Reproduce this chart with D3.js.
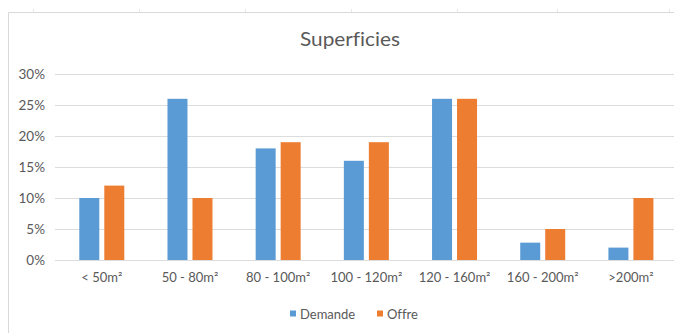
<!DOCTYPE html>
<html>
<head>
<meta charset="utf-8">
<script src="https://cdn.jsdelivr.net/npm/d3@7"></script>
<style>
  html, body { margin: 0; padding: 0; background: #fff; }
  svg { display: block; }
  text { font-family: Lato, "Noto Sans", sans-serif; fill: #595959; font-variant-ligatures: none; }
</style>
</head>
<body>
<svg id="chart" width="674" height="333"></svg>
<script>
// Surface ranges and the share of requests (Demande) vs listings (Offre), in %
const categories = ["< 50m²", "50 - 80m²", "80 - 100m²", "100 - 120m²", "120 - 160m²", "160 - 200m²", ">200m²"];
const demande = [10, 26, 18, 16, 26, 2.8, 2];
const offre = [12, 10, 19, 19, 26, 5, 10];
const seriesNames = ["Demande", "Offre"];
const seriesColors = ["#5b9bd5", "#ed7d31"];
const yTicks = [0, 5, 10, 15, 20, 25, 30];
const title = "Superficies";

const svg = d3.select("#chart");
const W = 674, H = 333;

// spreadsheet cell gridlines peeking above the chart frame
const cellX = [33, 139, 245, 351, 457, 557, 669];
svg.selectAll("line.cell").data(cellX).join("line")
  .attr("x1", d => d + 0.5).attr("x2", d => d + 0.5)
  .attr("y1", 9).attr("y2", 13)
  .attr("stroke", "#e6e6e6").attr("stroke-width", 1);

// chart frame
svg.append("path")
  .attr("d", `M${W + 2},12.5 H8.5 V${H + 2}`)
  .attr("fill", "none").attr("stroke", "#d9d9d9").attr("stroke-width", 1);

// title
svg.append("text")
  .attr("x", 350).attr("y", 46)
  .attr("text-anchor", "middle")
  .attr("font-size", 20)
  .attr("textLength", 100).attr("lengthAdjust", "spacingAndGlyphs")
  .text(title);

// scales
const x0 = d3.scaleBand().domain(categories).range([57.7, 675]).padding(0);
const groupW = 45;
const x1 = d3.scaleBand().domain(seriesNames)
  .range([x0.bandwidth() / 2 - groupW / 2, x0.bandwidth() / 2 + groupW / 2])
  .paddingInner(0.2);
const y = d3.scaleLinear().domain([0, 30]).range([260, 74]);
const color = d3.scaleOrdinal().domain(seriesNames).range(seriesColors);

// horizontal gridlines + y axis labels
const yAxis = d3.axisLeft(y).tickValues(yTicks)
  .tickSize(-(W - 55)).tickFormat(d => d + "%").tickPadding(10);
const gy = svg.append("g").attr("transform", "translate(55,0)").call(yAxis);
gy.select(".domain").remove();
gy.selectAll(".tick line").attr("stroke", "#dcdcdc").attr("stroke-width", 1);
gy.selectAll(".tick text")
  .attr("font-size", 13.5).attr("fill", "#595959")
  .attr("font-family", "Lato, sans-serif");

// bars
const rows = categories.map((c, i) => ({ cat: c, values: [demande[i], offre[i]] }));
const groups = svg.append("g").selectAll("g").data(rows).join("g")
  .attr("transform", d => `translate(${x0(d.cat)},0)`);
groups.selectAll("rect")
  .data(d => d.values.map((v, k) => ({ key: seriesNames[k], value: v })))
  .join("rect")
  .attr("x", d => x1(d.key))
  .attr("width", x1.bandwidth())
  .attr("y", d => y(d.value))
  .attr("height", d => y(0) - y(d.value))
  .attr("fill", d => color(d.key));

// x axis labels
const xAxis = d3.axisBottom(x0).tickSize(0).tickPadding(13);
const gx = svg.append("g").attr("transform", `translate(0,${y(0)})`).call(xAxis);
gx.select(".domain").remove();
gx.selectAll(".tick text")
  .attr("font-size", 13).attr("fill", "#595959")
  .attr("font-family", "Lato, sans-serif");

// legend
const legend = svg.append("g").attr("transform", "translate(290,314)");
const legendItems = [
  { name: seriesNames[0], dx: 0 },
  { name: seriesNames[1], dx: 87 }
];
const li = legend.selectAll("g").data(legendItems).join("g")
  .attr("transform", d => `translate(${d.dx},0)`);
li.append("rect")
  .attr("x", 0).attr("y", -3.5).attr("width", 6).attr("height", 6)
  .attr("fill", d => color(d.name));
li.append("text")
  .attr("x", 10).attr("y", 0).attr("dy", "0.35em")
  .attr("font-size", 13)
  .text(d => d.name);
</script>
</body>
</html>
